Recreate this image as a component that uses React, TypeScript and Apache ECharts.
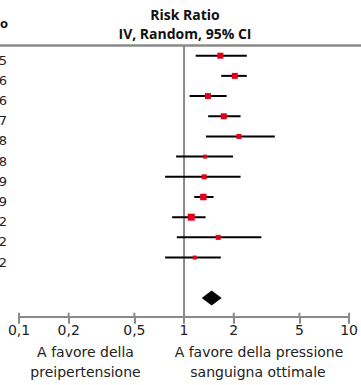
import React, { useEffect, useRef } from "react";
import * as echarts from "echarts";

// Visible (cropped) last digits of the study labels
const rowLabels = ["5", "6", "6", "7", "8", "8", "9", "9", "2", "2", "2"];
// Risk ratios and 95% CI per study
const estimates = [1.66, 2.03, 1.395, 1.74, 2.15, 1.34, 1.325, 1.31, 1.106, 1.61, 1.16];
const lowerCI = [1.176, 1.68, 1.08, 1.4, 1.357, 0.895, 0.768, 1.153, 0.847, 0.904, 0.768];
const upperCI = [2.4, 2.4, 1.81, 2.2, 3.55, 1.98, 2.2, 1.51, 1.35, 2.94, 1.67];
// Relative study weights (%)
const weights = [10.6, 10.6, 10.6, 10.7, 7.4, 4.7, 7.4, 12.5, 14.5, 7.4, 4.7];
// Pooled estimate [lower, estimate, upper]
const pooled = [1.28, 1.47, 1.69];
// Axis ticks
const tickValues = [0.1, 0.2, 0.5, 1, 2, 5, 10];
const tickLabels = ["0,1", "0,2", "0,5", "1", "2", "5", "10"];

const FONT = "'DejaVu Sans', sans-serif";
const BOLD_FONT = "'Open Sans', 'DejaVu Sans', sans-serif";
const GRAY = "#8a8a8a";
const Y_MIN = -0.5;
const Y_MAX = 12.93;

export default function App() {
  const ref = useRef<HTMLDivElement>(null);
  useEffect(() => {
    document.body.style.margin = "0";
    const chart = echarts.init(ref.current!, null, { renderer: "svg" });
    const studyData = estimates.map((e, i) => [i, lowerCI[i], upperCI[i], e, weights[i]]);
    const pooledRow = estimates.length + 1;
    const fmt = (v: number) => {
      let best = 0;
      tickValues.forEach((t, k) => {
        if (Math.abs(Math.log10(t) - Math.log10(v)) < Math.abs(Math.log10(tickValues[best]) - Math.log10(v))) best = k;
      });
      return tickLabels[best];
    };
    chart.setOption({
      animation: false,
      grid: { left: 19, right: 10, top: 45.6, bottom: 68.3 },
      xAxis: {
        type: "log",
        logBase: 10,
        min: 0.1,
        max: 10,
        position: "bottom",
        axisLine: { show: true, onZero: false, lineStyle: { color: GRAY, width: 2 } },
        axisTick: { show: true, length: 7, customValues: tickValues, lineStyle: { color: GRAY, width: 2 } },
        axisLabel: {
          customValues: tickValues,
          formatter: fmt,
          color: "#222",
          fontSize: 14,
          fontFamily: FONT,
          margin: 6,
        },
        splitLine: { show: false },
        minorTick: { show: false },
        minorSplitLine: { show: false },
      },
      yAxis: {
        type: "value",
        min: Y_MIN,
        max: Y_MAX,
        inverse: true,
        show: false,
        axisLine: { show: false, onZero: false },
        axisTick: { show: false },
        axisLabel: { show: false },
        splitLine: { show: false },
      },
      graphic: [
        { type: "line", shape: { x1: 0, y1: 45.5, x2: 361, y2: 45.5 }, style: { stroke: GRAY, lineWidth: 2.5 } },
        { type: "text", style: { text: "o", x: 8, y: 22.5, align: "right", verticalAlign: "middle", font: `bold 13px ${BOLD_FONT}`, fill: "#111" } },
        { type: "text", style: { text: "Risk Ratio", x: 185, y: 14, align: "center", verticalAlign: "middle", font: `bold 14px ${BOLD_FONT}`, fill: "#111" } },
        { type: "text", style: { text: "IV, Random, 95% CI", x: 185, y: 33, align: "center", verticalAlign: "middle", font: `bold 14px ${BOLD_FONT}`, fill: "#111" } },
        { type: "text", style: { text: "A favore della", x: 85.5, y: 352, align: "center", verticalAlign: "middle", font: `14px ${FONT}`, fill: "#222" } },
        { type: "text", style: { text: "preipertensione", x: 85.5, y: 372, align: "center", verticalAlign: "middle", font: `14px ${FONT}`, fill: "#222" } },
        { type: "text", style: { text: "A favore della pressione", x: 259, y: 352, align: "center", verticalAlign: "middle", font: `14px ${FONT}`, fill: "#222" } },
        { type: "text", style: { text: "sanguigna ottimale", x: 258, y: 372, align: "center", verticalAlign: "middle", font: `14px ${FONT}`, fill: "#222" } },
      ],
      series: [
        {
          type: "custom",
          name: "ref",
          data: [[1, 0]],
          encode: { x: 0, y: 1 },
          renderItem: (_p: any, api: any) => {
            const a = api.coord([api.value(0), Y_MIN]);
            const b = api.coord([api.value(0), Y_MAX]);
            return { type: "line", shape: { x1: a[0], y1: a[1], x2: b[0], y2: b[1] }, style: { stroke: GRAY, lineWidth: 2 } };
          },
        },
        {
          type: "custom",
          name: "tickTops",
          data: tickValues.map((t) => [t, Y_MAX]),
          encode: { x: 0, y: 1 },
          renderItem: (_p: any, api: any) => {
            const b = api.coord([api.value(0), api.value(1)]);
            return { type: "line", shape: { x1: b[0], y1: b[1], x2: b[0], y2: b[1] - 4 }, style: { stroke: GRAY, lineWidth: 2 } };
          },
        },
        {
          type: "custom",
          name: "studies",
          data: studyData,
          encode: { x: [1, 2, 3], y: 0 },
          renderItem: (_p: any, api: any) => {
            const i = api.value(0);
            const pLo = api.coord([api.value(1), i]);
            const pHi = api.coord([api.value(2), i]);
            const pE = api.coord([api.value(3), i]);
            const side = Math.sqrt(api.value(4)) * 1.84;
            return {
              type: "group",
              children: [
                { type: "line", shape: { x1: pLo[0], y1: pLo[1], x2: pHi[0], y2: pHi[1] }, style: { stroke: "#000", lineWidth: 2 } },
                { type: "rect", shape: { x: pE[0] - side / 2, y: pE[1] - side / 2, width: side, height: side }, style: { fill: "#e3001b" } },
                {
                  type: "text",
                  style: { text: rowLabels[i], x: 7, y: pE[1] + 4.5, align: "right", verticalAlign: "middle", font: `13px ${FONT}`, fill: "#222" },
                },
              ],
            };
          },
        },
        {
          type: "custom",
          name: "pooled",
          data: [[pooledRow, pooled[0], pooled[1], pooled[2]]],
          encode: { x: [1, 2, 3], y: 0 },
          renderItem: (_p: any, api: any) => {
            const r = api.value(0);
            const l = api.coord([api.value(1), r]);
            const c = api.coord([api.value(2), r]);
            const u = api.coord([api.value(3), r]);
            const h = 7.5;
            return {
              type: "polygon",
              shape: { points: [[l[0], l[1]], [c[0], c[1] - h], [u[0], u[1]], [c[0], c[1] + h]] },
              style: { fill: "#000" },
            };
          },
        },
      ],
    });
    return () => chart.dispose();
  }, []);
  return <div ref={ref} style={{ width: 361, height: 385 }} />;
}
